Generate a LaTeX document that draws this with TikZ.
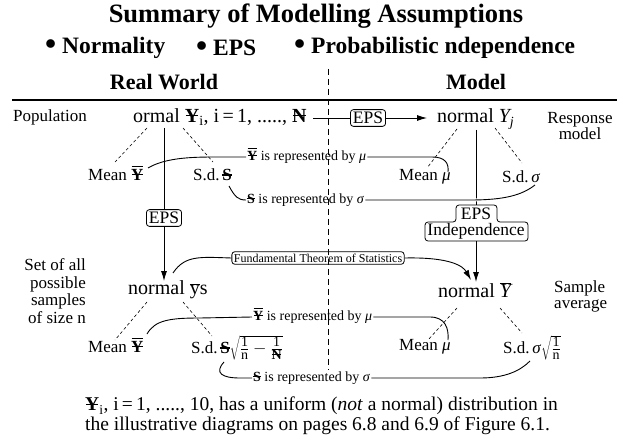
\documentclass[tikz,border=0pt]{standalone}
\usepackage{fontspec}
\usepackage{graphicx}
\setmainfont{Liberation Serif}
\usetikzlibrary{arrows.meta}
\newcommand\strk[1]{\ooalign{\textbf{#1}\cr\hidewidth\rule[.3em]{.62em}{.07em}\hidewidth\cr}}
\newcommand\sY{\strk{Y}}
\newcommand\sS{\strk{S}}
\newcommand\sN{\strk{N}}
\newcommand\bY{\ooalign{\sY\cr\hidewidth\rule[.78em]{.66em}{.085em}\hidewidth\cr}}
\newcommand\fs[1]{\fontsize{#1}{#1}\selectfont}
\newcommand\bul{\raisebox{-.05em}{\scalebox{1.35}{\textbullet}}}
\newcommand\fr[1]{\frac{\hbox{\fs{14}1}}{\hbox{\fs{14}#1}}}
\begin{document}
\begin{tikzpicture}[x=1pt,y=-1pt,
  txt/.style={inner sep=0pt,anchor=west,font=\fs{17}},
  big/.style={inner sep=0pt,anchor=west,font=\fs{20}},
  rep/.style={inner sep=1pt,anchor=west,font=\fs{14}},
  head/.style={inner sep=0pt,font=\bfseries\fs{22}},
  bhead/.style={inner sep=0pt,anchor=west,font=\bfseries\fs{23.5}},
  epsbox/.style={draw,rounded corners=3pt,inner sep=2.5pt,line width=0.8pt,font=\fs{17.5}},
  dsh/.style={dash pattern=on 3pt off 2.5pt,line width=0.6pt},
  ln/.style={line width=0.9pt},
  arr/.style={ln,-{Latex[length=10pt,width=6pt]}}]
\useasboundingbox (0,0) rectangle (620,438);
% headings
\node[inner sep=0pt,font=\bfseries\fs{26.5}] (title) at (316,16) {Summary of Modelling Assumptions};
\node[bhead] (b1) at (45,48) {\bul\ Normality};
\node[bhead] (b2) at (196,48) {\bul\ EPS};
\node[bhead] (b3) at (294,48) {\bul\ Probabilistic ndependence};
\node[head] (rw) at (164,82) {Real World};
\node[head] (md) at (476,82) {Model};
\coordinate (r1) at (12,100); \coordinate (r2) at (617,100);
\draw[line width=1.3pt] (r1) -- (r2);
\coordinate (d1) at (328,69); \coordinate (d2) at (328,370);
\draw[line width=0.8pt,dash pattern=on 6pt off 4pt] (d1) -- (d2);
% top row
\node[txt] (pop) at (13,117) {Population};
\node[big] (pd) at (133,117) {ormal \sY\textsubscript{i}, i\,=\,1, ....., \sN};
\node[big] (ny) at (437,119) {normal \textit{Y\textsubscript{j}}};
\node[inner sep=0pt,align=center,font=\fontsize{17}{16}\selectfont] (resp) at (580,126) {Response\\model};
\node[epsbox] (eps0) at (368,118) {EPS};
\coordinate (a0) at (313,118); \coordinate (a1) at (427,118);
\draw[ln] (a0) -- (eps0.west);
\draw[arr] (eps0.east) -- (a1);
% top left branch
\node[txt] (m1) at (88,175) {Mean \bY};
\node[txt] (s1) at (193,175) {S.d.\,\sS};
\coordinate (t1a) at (147,128); \coordinate (t1b) at (115,162);
\coordinate (t2a) at (183,128); \coordinate (t2b) at (213,162);
\draw[dsh] (t1a) -- (t1b); \draw[dsh] (t2a) -- (t2b);
\node[epsbox] (eps1) at (164,218) {EPS};
\coordinate (v1) at (164,128); \coordinate (v2) at (164,281);
\draw[ln] (v1) -- (eps1.north);
\draw[arr] (eps1.south) -- (v2);
% top right branch
\node[txt] (m2) at (399,177) {Mean \textit{μ}};
\node[txt] (s2) at (502,177) {S.d.\,\textit{σ}};
\coordinate (t3a) at (457,129); \coordinate (t3b) at (427,168);
\coordinate (t4a) at (495,128); \coordinate (t4b) at (522,163);
\draw[dsh] (t3a) -- (t3b); \draw[dsh] (t4a) -- (t4b);
\coordinate (v3) at (476,130); \coordinate (v4) at (476,205);
\draw[ln] (v3) -- (v4);
\draw[line width=0.8pt,rounded corners=3pt] (456,222) -- (456,205) -- (497,205) -- (497,222) -- (528,222) -- (528,241) -- (425,241) -- (425,222) -- cycle;
\node[inner sep=0pt,font=\fs{17.5}] (e2a) at (476,213.5) {EPS};
\node[inner sep=0pt,font=\fs{17.5}] (e2b) at (476,231.5) {Independence};
\coordinate (v5) at (476,241); \coordinate (v6) at (476,282);
\draw[arr] (v5) -- (v6);
% represented-by labels (top)
\node[rep] (ry1) at (246,157) {\bY\ is represented by \textit{μ}};
\node[rep] (rs1) at (246,200) {\sS\ is represented by \textit{σ}};
\coordinate (c1) at (148,168); \coordinate (c2) at (448,172);
\coordinate (c3) at (229,186); \coordinate (c4) at (535,185);
\draw[ln] (c1) .. controls (165,158) and (190,157) .. (215,157) -- (ry1.west);
\draw[ln] (ry1.east) -- (432,157) .. controls (445,157) and (449,163) .. (c2);
\draw[ln] (c3) .. controls (235,197) and (238,200) .. (rs1.west);
\draw[ln,preaction={draw=white,line width=3pt}] (rs1.east) -- (470,200) .. controls (505,200) and (522,195) .. (c4);
% bottom row
\node[inner sep=0pt,align=right,anchor=east,font=\fontsize{17}{17.7}\selectfont] (set) at (86,291) {Set of all\\possible\\samples\\of size n};
\node[big] (ns) at (128,290) {normal $\overline{\hbox{y}}$s};
\node[big] (nY) at (438,290) {normal $\overline{\hbox{\itshape Y}}$};
\node[inner sep=0pt,anchor=west,align=left,font=\fontsize{17}{16}\selectfont] (samp) at (554,296) {Sample\\average};
\node[draw,rounded corners=3pt,inner sep=2pt,line width=0.8pt,font=\fs{12}] (fts) at (318,258) {Fundamental Theorem of Statistics};
\coordinate (f1) at (173,273); \coordinate (f2) at (471,280);
\draw[ln] (f1) .. controls (185,255) and (200,257) .. (fts.west);
\draw[arr] (fts.east) .. controls (450,257) and (463,266) .. (f2);
% bottom left
\node[txt] (m3) at (88,347) {Mean \bY};
\node[txt] (s3) at (191,348) {S.d.\,\sS$\sqrt{\fr{n}-\fr{\sN}}$};
\coordinate (t5a) at (147,302); \coordinate (t5b) at (115,340);
\coordinate (t6a) at (183,302); \coordinate (t6b) at (212,336);
\draw[dsh] (t5a) -- (t5b); \draw[dsh] (t6a) -- (t6b);
% bottom right
\node[txt] (m4) at (399,347) {Mean \textit{μ}};
\node[txt] (s4) at (503,348) {S.d.\,\textit{σ}$\sqrt{\fr{n}}$};
\coordinate (t7a) at (457,308); \coordinate (t7b) at (428,340);
\coordinate (t8a) at (500,308); \coordinate (t8b) at (522,333);
\draw[dsh] (t7a) -- (t7b); \draw[dsh] (t8a) -- (t8b);
% represented-by labels (bottom)
\node[rep] (ry2) at (252,317) {\bY\ is represented by \textit{μ}};
\node[rep] (rs2) at (252,378) {\sS\ is represented by \textit{σ}};
\coordinate (c5) at (147,334); \coordinate (c6) at (448,340);
\coordinate (c7) at (224,362); \coordinate (c8) at (530,361);
\draw[ln] (c5) .. controls (155,320) and (170,318) .. (200,318) -- (ry2.west);
\draw[ln] (ry2.east) -- (430,317) .. controls (445,317) and (449,328) .. (c6);
\draw[ln] (c7) .. controls (214,373) and (222,378) .. (240,378) -- (rs2.west);
\draw[ln] (rs2.east) -- (480,378) .. controls (505,378) and (520,371) .. (c8);
% footnote
\node[inner sep=0pt,anchor=north west,align=left,font=\fontsize{19.5}{20}\selectfont] (note) at (85,397) {\sY\textsubscript{i}, i\,=\,1, ....., 10, has a uniform (\textit{not} a normal) distribution in\\the illustrative diagrams on pages 6.8 and 6.9 of Figure 6.1.};
\end{tikzpicture}
\end{document}
